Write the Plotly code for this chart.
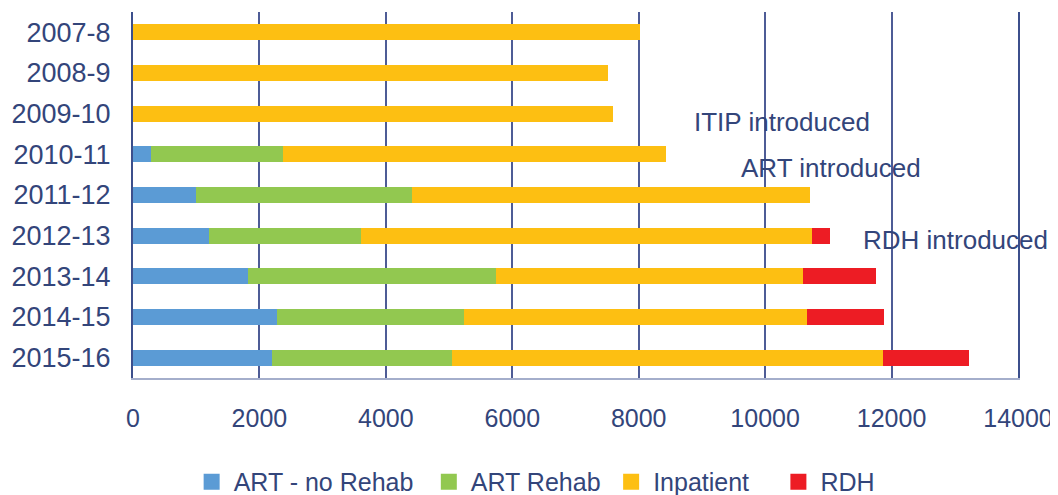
import plotly.graph_objects as go

years = ["2007-8", "2008-9", "2009-10", "2010-11", "2011-12",
         "2012-13", "2013-14", "2014-15", "2015-16"]
art_no_rehab = [0, 0, 0, 280, 996, 1202, 1823, 2277, 2203]
art_rehab = [0, 0, 0, 2097, 3415, 2403, 3927, 2961, 2845]
inpatient = [8026, 7510, 7595, 6050, 6304, 7135, 4854, 5429, 6815]
rdh = [0, 0, 0, 0, 0, 291, 1143, 1217, 1359]

x_ticks = [0, 2000, 4000, 6000, 8000, 10000, 12000, 14000]
x_tick_labels = ["0", "2000", "4000", "6000", "8000", "10000", "12000", "14000"]

series = [
    ("ART - no Rehab", art_no_rehab, "#5B9BD5"),
    ("ART Rehab", art_rehab, "#92C850"),
    ("Inpatient", inpatient, "#FDBF12"),
    ("RDH", rdh, "#ED1C24"),
]
legend_x = [0.064, 0.332, 0.538, 0.727]  # left edges of the legend entries (paper)

FONT = "Liberation Sans, Arial, sans-serif"
TXT = "#33457A"
GRID = "#4E5C96"

fig = go.Figure()
for i, (name, vals, col) in enumerate(series):
    lg = "legend" if i == 0 else f"legend{i + 1}"
    fig.add_trace(go.Bar(
        y=years, x=[v if v else None for v in vals], name=name,
        orientation="h", marker=dict(color=col, line=dict(width=0)),
        showlegend=False, legendgroup=name,
    ))
    # legend key only (larger square like the reference)
    fig.add_trace(go.Scatter(
        x=[None], y=[None], mode="markers", name=name, legend=lg,
        legendgroup=name, showlegend=True,
        marker=dict(symbol="square", size=16, color=col, line=dict(width=0)),
    ))

legend_common = dict(orientation="h", y=-0.284, yanchor="middle", xanchor="left",
                     font=dict(size=25, color=TXT), itemwidth=34,
                     bgcolor="rgba(0,0,0,0)")
legends = {}
for i, lx in enumerate(legend_x):
    key = "legend" if i == 0 else f"legend{i + 1}"
    legends[key] = dict(legend_common, x=lx)

# the page adds an 8px body margin, so the figure is 8px smaller on each axis
fig.update_layout(
    showlegend=True,
    barmode="stack",
    bargap=0.6,
    width=1050, height=487,
    margin=dict(l=125, r=40, t=4, b=117, autoexpand=False),
    plot_bgcolor="white", paper_bgcolor="white",
    font=dict(family=FONT, color=TXT),
    xaxis=dict(range=[0, 14000], tickvals=x_ticks, ticktext=x_tick_labels,
               showgrid=True, gridcolor=GRID, gridwidth=1.5, zeroline=False,
               showline=True, linecolor="#A4AECB", linewidth=1.5,
               tickfont=dict(size=25, color=TXT), ticks="", ticklen=0,
               ticklabelstandoff=17, automargin=False),
    yaxis=dict(type="category", categoryorder="array", categoryarray=years,
               autorange="reversed", automargin=False,
               showgrid=False, showline=True, mirror=True, linecolor="#3C4F8C", linewidth=2,
               tickfont=dict(size=27, color=TXT), ticks="", ticklabelstandoff=15),
    **legends,
)

annotations = [
    ("ITIP introduced", 0.632, 0.699),
    ("ART introduced", 0.685, 0.574),
    ("RDH introduced", 0.823, 0.377),
]
for text, ax, ay in annotations:
    fig.add_annotation(text=text, xref="paper", yref="paper", x=ax, y=ay,
                       xanchor="left", yanchor="middle", showarrow=False,
                       font=dict(size=26, color=TXT, family=FONT))

fig.write_html("out.html")
